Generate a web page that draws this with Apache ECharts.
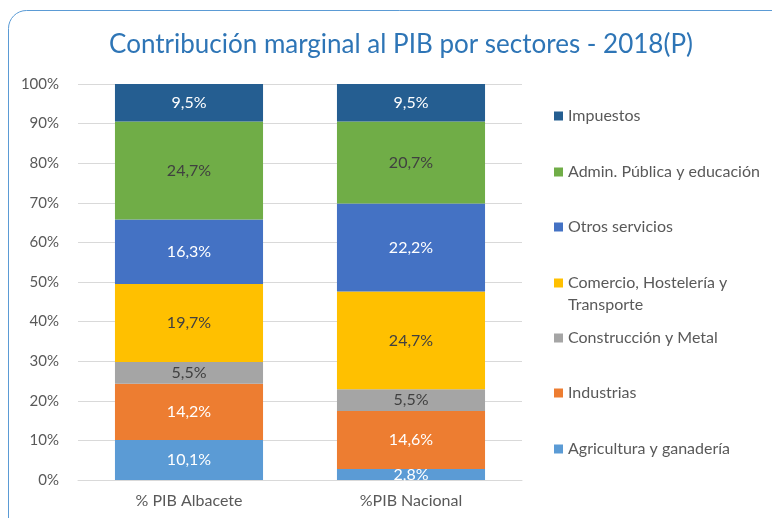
<!DOCTYPE html>
<html><head><meta charset="utf-8">
<script src="https://cdn.jsdelivr.net/npm/echarts@6/dist/echarts.min.js"></script>
<style>html,body{margin:0;padding:0;background:#fff;}#c{width:772px;height:518px;}</style>
</head><body><div id="c"></div>
<script>
const categories = ['% PIB Albacete', '%PIB Nacional'];
const seriesNames = ['Agricultura y ganadería', 'Industrias', 'Construcción y Metal', 'Comercio, Hostelería y Transporte', 'Otros servicios', 'Admin. Pública y educación', 'Impuestos'];
const agricultura = [10.1, 2.8];
const industrias = [14.2, 14.6];
const construccion = [5.5, 5.5];
const comercio = [19.7, 24.7];
const otros = [16.3, 22.2];
const admin = [24.7, 20.7];
const impuestos = [9.5, 9.5];
const yTicks = ['0%','10%','20%','30%','40%','50%','60%','70%','80%','90%','100%'];

const values = [agricultura, industrias, construccion, comercio, otros, admin, impuestos];
const colors = ['#5B9BD5', '#ED7D31', '#A5A5A5', '#FFC000', '#4472C4', '#70AD47', '#255E91'];
const labelColors = ['#fff', '#fff', '#404040', '#404040', '#fff', '#404040', '#fff'];
const FONT = 'Lato';

const series = seriesNames.map((n, i) => ({
  name: n, type: 'bar', stack: 'total', barWidth: '66.7%',
  data: values[i],
  itemStyle: { color: colors[i] },
  label: { show: true, position: 'inside', color: labelColors[i], fontFamily: FONT, fontSize: 16,
    formatter: p => p.value.toFixed(1).replace('.', ',') + '%' }
}));

const legendCenters = [449, 393, 338, 283, 227, 172, 116];
const legends = seriesNames.map((n, i) => ({
  data: [n], left: 554, top: legendCenters[i] - 10, orient: 'vertical', icon: 'rect', padding: 0,
  itemWidth: 9, itemHeight: 9, itemGap: 4,
  textStyle: { color: '#595959', fontFamily: FONT, fontSize: 16, lineHeight: 20, padding: [0, 0, 0, 0] },
  formatter: name => name === 'Comercio, Hostelería y Transporte' ? 'Comercio, Hostelería y' : name,
  selectedMode: false
}));

const chart = echarts.init(document.getElementById('c'));
chart.setOption({
  animation: false,
  title: { text: 'Contribución marginal al PIB por sectores - 2018(P)', left: 396, textAlign: 'center', top: 27,
    textStyle: { color: '#2E75B6', fontFamily: FONT, fontSize: 26, fontWeight: 'normal' } },
  graphic: [
    { type: 'rect', shape: { x: 8.5, y: 10.5, width: 800, height: 540, r: 18 },
      style: { fill: 'none', stroke: '#5B9BD5', lineWidth: 1 }, silent: true },
    { type: 'text', left: 568, top: 297, silent: true,
      style: { text: 'Transporte', fill: '#595959', font: '16px Lato' } }
  ],
  legend: legends,
  grid: { left: 78, right: 250, top: 84, bottom: 38 },
  xAxis: { type: 'category', data: categories,
    axisLine: { lineStyle: { color: '#D9D9D9' } }, axisTick: { show: false },
    axisLabel: { color: '#595959', fontFamily: FONT, fontSize: 16, margin: 13 } },
  yAxis: { type: 'value', min: 0, max: 100, interval: 10,
    axisLabel: { color: '#595959', fontFamily: FONT, fontSize: 15, margin: 19, formatter: v => yTicks[Math.round(v / 10)] },
    splitLine: { lineStyle: { color: '#D9D9D9' } }, axisLine: { show: false }, axisTick: { show: false } },
  series: series
});
</script></body></html>
